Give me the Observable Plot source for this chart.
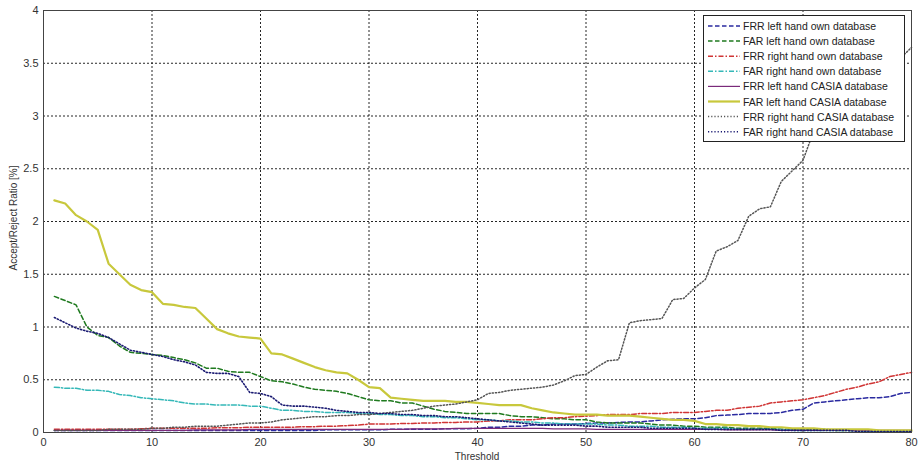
<!DOCTYPE html>
<html>
<head>
<meta charset="utf-8">
<script src="https://cdn.jsdelivr.net/npm/d3@7"></script>
<script src="https://cdn.jsdelivr.net/npm/@observablehq/plot@0.6"></script>
<style>
  html, body { margin: 0; padding: 0; background: #fff; }
  #chart { width: 919px; height: 466px; }
</style>
</head>
<body>
<div id="chart"></div>
<script>
// Threshold values (x)
const thresholds = d3.range(1, 81);

// Tick labels
const xTicks = [0, 10, 20, 30, 40, 50, 60, 70, 80];
const yTicks = [0, 0.5, 1, 1.5, 2, 2.5, 3, 3.5, 4];

// Series names
const seriesNames = [
  "FRR left hand own database",
  "FAR left hand own database",
  "FRR right hand own database",
  "FAR right hand own database",
  "FRR left hand CASIA database",
  "FAR left hand CASIA database",
  "FRR right hand CASIA database",
  "FAR right hand CASIA database"
];

// Series values (threshold 1..80)
const frrLeftOwn = [
  0.02,0.02,0.02,0.02,0.02,0.02,0.02,0.02,0.02,0.02,
  0.02,0.02,0.02,0.02,0.02,0.02,0.02,0.02,0.02,0.02,
  0.02,0.02,0.02,0.02,0.02,0.025,0.025,0.025,0.025,0.025,
  0.025,0.03,0.03,0.03,0.03,0.03,0.035,0.035,0.035,0.04,
  0.05,0.05,0.06,0.06,0.07,0.07,0.08,0.08,0.08,0.085,
  0.09,0.09,0.095,0.10,0.10,0.11,0.12,0.125,0.13,0.13,
  0.14,0.16,0.165,0.17,0.18,0.18,0.18,0.19,0.21,0.22,
  0.28,0.29,0.30,0.31,0.32,0.33,0.33,0.34,0.37,0.38
];
const farLeftOwn = [
  1.29,1.25,1.21,1.00,0.92,0.90,0.82,0.76,0.75,0.74,
  0.73,0.71,0.69,0.66,0.61,0.61,0.58,0.57,0.57,0.53,
  0.49,0.48,0.46,0.43,0.41,0.40,0.39,0.37,0.34,0.31,
  0.30,0.30,0.28,0.28,0.25,0.22,0.20,0.19,0.18,0.18,
  0.18,0.18,0.16,0.15,0.15,0.14,0.13,0.13,0.12,0.12,
  0.10,0.09,0.09,0.09,0.09,0.08,0.07,0.07,0.06,0.06,
  0.05,0.05,0.05,0.04,0.04,0.04,0.04,0.03,0.03,0.03,
  0.03,0.03,0.02,0.02,0.02,0.02,0.01,0.01,0.01,0.01
];
const frrRightOwn = [
  0.03,0.03,0.03,0.03,0.03,0.03,0.03,0.03,0.035,0.04,
  0.04,0.04,0.04,0.04,0.04,0.045,0.045,0.045,0.05,0.05,
  0.05,0.05,0.05,0.055,0.055,0.06,0.06,0.065,0.07,0.08,
  0.08,0.08,0.085,0.085,0.09,0.09,0.095,0.095,0.10,0.10,
  0.11,0.11,0.12,0.12,0.12,0.13,0.14,0.14,0.15,0.155,
  0.16,0.17,0.17,0.17,0.18,0.18,0.18,0.19,0.19,0.19,
  0.20,0.21,0.21,0.23,0.24,0.25,0.28,0.29,0.30,0.31,
  0.33,0.35,0.38,0.41,0.43,0.46,0.48,0.53,0.55,0.57
];
const farRightOwn = [
  0.43,0.42,0.42,0.40,0.40,0.39,0.36,0.35,0.33,0.32,
  0.31,0.30,0.28,0.27,0.27,0.26,0.26,0.26,0.25,0.25,
  0.23,0.21,0.21,0.20,0.20,0.19,0.19,0.19,0.18,0.18,
  0.17,0.17,0.16,0.16,0.15,0.15,0.14,0.14,0.13,0.12,
  0.12,0.11,0.11,0.10,0.10,0.09,0.09,0.08,0.08,0.08,
  0.08,0.07,0.07,0.06,0.06,0.06,0.05,0.05,0.05,0.04,
  0.04,0.04,0.04,0.03,0.03,0.03,0.03,0.03,0.02,0.02,
  0.02,0.02,0.02,0.02,0.02,0.01,0.01,0.01,0.01,0.01
];
const frrLeftCasia = [
  0.02,0.02,0.02,0.02,0.02,0.02,0.02,0.02,0.02,0.02,
  0.02,0.02,0.02,0.025,0.025,0.025,0.025,0.025,0.03,0.03,
  0.03,0.03,0.03,0.03,0.03,0.03,0.03,0.03,0.03,0.03,
  0.03,0.03,0.03,0.035,0.035,0.035,0.035,0.04,0.04,0.04,
  0.04,0.04,0.04,0.04,0.04,0.04,0.035,0.035,0.035,0.035,
  0.03,0.03,0.03,0.03,0.03,0.03,0.03,0.03,0.03,0.03,
  0.03,0.03,0.025,0.025,0.025,0.025,0.025,0.02,0.02,0.02,
  0.02,0.02,0.02,0.02,0.02,0.02,0.02,0.02,0.02,0.02
];
const farLeftCasia = [
  2.20,2.17,2.06,2.00,1.92,1.60,1.50,1.40,1.35,1.33,
  1.22,1.21,1.19,1.18,1.08,0.98,0.94,0.91,0.90,0.89,
  0.75,0.74,0.70,0.66,0.62,0.59,0.57,0.56,0.50,0.43,
  0.42,0.33,0.32,0.31,0.30,0.30,0.30,0.29,0.29,0.28,
  0.27,0.26,0.26,0.26,0.23,0.21,0.19,0.18,0.17,0.17,
  0.17,0.16,0.16,0.16,0.15,0.14,0.13,0.12,0.12,0.11,
  0.08,0.08,0.07,0.07,0.06,0.06,0.05,0.05,0.04,0.04,
  0.04,0.03,0.03,0.03,0.03,0.03,0.02,0.02,0.02,0.02
];
const frrRightCasia = [
  0.02,0.02,0.02,0.02,0.02,0.03,0.03,0.03,0.03,0.04,
  0.04,0.05,0.05,0.06,0.06,0.06,0.07,0.08,0.09,0.09,
  0.10,0.12,0.13,0.14,0.15,0.15,0.16,0.16,0.17,0.17,
  0.18,0.19,0.20,0.21,0.23,0.25,0.26,0.27,0.29,0.31,
  0.37,0.38,0.40,0.41,0.42,0.43,0.45,0.49,0.54,0.55,
  0.62,0.68,0.69,1.04,1.06,1.07,1.08,1.26,1.27,1.37,
  1.45,1.72,1.76,1.82,2.05,2.12,2.14,2.38,2.48,2.58,
  2.86,2.96,3.05,3.13,3.22,3.30,3.38,3.46,3.55,3.65
];
const farRightCasia = [
  1.09,1.04,0.99,0.96,0.94,0.90,0.84,0.78,0.76,0.74,
  0.72,0.69,0.67,0.64,0.57,0.56,0.56,0.53,0.38,0.37,
  0.34,0.26,0.25,0.25,0.24,0.23,0.21,0.20,0.19,0.19,
  0.18,0.18,0.17,0.17,0.16,0.16,0.15,0.15,0.14,0.13,
  0.12,0.11,0.10,0.09,0.08,0.07,0.07,0.07,0.07,0.06,
  0.06,0.05,0.05,0.05,0.05,0.04,0.04,0.04,0.04,0.04,
  0.03,0.03,0.03,0.03,0.03,0.03,0.03,0.02,0.02,0.02,
  0.02,0.02,0.02,0.02,0.01,0.01,0.01,0.01,0.01,0.01
];

const seriesValues = [frrLeftOwn, farLeftOwn, frrRightOwn, farRightOwn,
                      frrLeftCasia, farLeftCasia, frrRightCasia, farRightCasia];

// Styles
const DASH = "4.5,2.5", DASHDOT = "5,2,1.5,2", DOT = "1.2,2";
const styles = [
  {stroke: "#2a2aa0", width: 1.5, dash: DASH},
  {stroke: "#1f7a1f", width: 1.5, dash: DASH},
  {stroke: "#d03535", width: 1.5, dash: DASHDOT},
  {stroke: "#35b8b8", width: 1.5, dash: DASHDOT},
  {stroke: "#7a2a7a", width: 1.2, dash: null},
  {stroke: "#c8c83c", width: 2.2, dash: null},
  {stroke: "#555555", width: 1.5, dash: DOT},
  {stroke: "#1a1a72", width: 1.6, dash: DOT}
];

const lineMarks = seriesValues.map((vals, k) =>
  Plot.line(thresholds, {
    x: d => d,
    y: (d, i) => vals[i],
    stroke: styles[k].stroke,
    strokeWidth: styles[k].width,
    strokeDasharray: styles[k].dash || undefined
  })
);

const chart = Plot.plot({
  width: 919,
  height: 466,
  marginLeft: 43,
  marginRight: 8,
  marginTop: 10,
  marginBottom: 34,
  style: {fontFamily: "'Liberation Sans', Arial, sans-serif", fontSize: "11px", color: "#333", background: "#fff"},
  x: {domain: [0, 80]},
  y: {domain: [0, 4]},
  marks: [
    Plot.gridX(xTicks.slice(1, -1), {stroke: "#000", strokeOpacity: 0.85, strokeDasharray: "2,2"}),
    Plot.gridY(yTicks.slice(1, -1), {stroke: "#000", strokeOpacity: 0.85, strokeDasharray: "2,2"}),
    ...lineMarks,
    Plot.frame({stroke: "#444"}),
    Plot.axisX(xTicks, {tickSize: 0, tickPadding: 6, label: null}),
    Plot.axisY(yTicks, {tickSize: 0, tickPadding: 5, label: null, tickFormat: d => String(d)})
  ]
});

document.getElementById("chart").appendChild(chart);

// Axis titles and legend
const svg = d3.select(chart);
svg.append("text")
  .attr("transform", "translate(13,218) rotate(-90)")
  .attr("text-anchor", "middle")
  .attr("dominant-baseline", "central")
  .attr("font-size", 10)
  .attr("fill", "#333")
  .text("Accept/Reject Ratio [%]");
svg.append("text")
  .attr("x", 477).attr("y", 456)
  .attr("text-anchor", "middle")
  .attr("dominant-baseline", "central")
  .attr("font-size", 10)
  .attr("fill", "#333")
  .text("Threshold");

const lg = svg.append("g");
lg.append("rect")
  .attr("x", 703.5).attr("y", 15.5).attr("width", 201).attr("height", 126)
  .attr("fill", "#fff").attr("stroke", "#222");
seriesNames.forEach((name, k) => {
  const cy = 26 + k * 15.1;
  lg.append("line")
    .attr("x1", 708).attr("x2", 740).attr("y1", cy).attr("y2", cy)
    .attr("stroke", styles[k].stroke)
    .attr("stroke-width", styles[k].width)
    .attr("stroke-dasharray", styles[k].dash);
  lg.append("text")
    .attr("x", 743).attr("y", cy)
    .attr("text-anchor", "start")
    .attr("dominant-baseline", "central")
    .attr("font-size", 10.5)
    .attr("fill", "#222")
    .text(name);
});
</script>
</body>
</html>
